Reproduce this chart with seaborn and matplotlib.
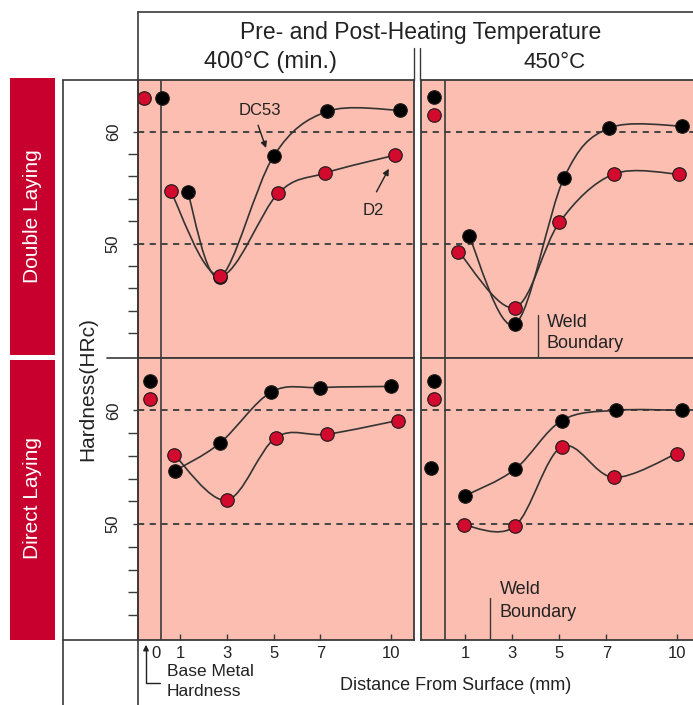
import numpy as np
import pandas as pd
import matplotlib
matplotlib.use("Agg")
import matplotlib.pyplot as plt
import seaborn as sns
from matplotlib.path import Path
from matplotlib.patches import PathPatch, Rectangle, FancyArrowPatch
from matplotlib.lines import Line2D
from matplotlib import font_manager

# ---------------- data (distance mm, hardness HRc) ----------------
# Double laying, 400 C
dl400_dc53_x = [1.33, 2.7, 5.0, 7.3, 10.4]
dl400_dc53_y = [54.6, 47.0, 57.8, 61.8, 61.9]
dl400_d2_x = [0.6, 2.7, 5.2, 7.2, 10.2]
dl400_d2_y = [54.7, 47.1, 54.5, 56.3, 57.9]
dl400_base_dc53 = [0.23, 63.0]
dl400_base_d2 = [-0.53, 63.0]
# Double laying, 450 C
dl450_dc53_x = [1.15, 3.1, 5.2, 7.1, 10.2]
dl450_dc53_y = [50.7, 42.8, 55.9, 60.3, 60.5]
dl450_d2_x = [0.7, 3.1, 5.0, 7.3, 10.1]
dl450_d2_y = [49.3, 44.3, 51.9, 56.2, 56.2]
dl450_base_dc53 = [-0.34, 63.1]
dl450_base_d2 = [-0.34, 61.5]
# Direct laying, 400 C
dr400_dc53_x = [0.8, 2.7, 4.9, 7.0, 10.0]
dr400_dc53_y = [54.7, 57.1, 61.6, 62.0, 62.1]
dr400_d2_x = [0.75, 3.0, 5.1, 7.3, 10.3]
dr400_d2_y = [56.1, 52.1, 57.6, 57.9, 59.1]
dr400_base_dc53 = [-0.28, 62.6]
dr400_base_d2 = [-0.28, 61.0]
# Direct laying, 450 C
dr450_dc53_x = [1.0, 3.1, 5.1, 7.4, 10.2]
dr450_dc53_y = [52.5, 54.8, 59.1, 60.0, 60.0]
dr450_d2_x = [0.94, 3.1, 5.1, 7.3, 10.0]
dr450_d2_y = [49.9, 49.8, 56.8, 54.1, 56.2]
dr450_base_dc53_x = [-0.34, -0.47]
dr450_base_dc53_y = [62.6, 54.9]
dr450_base_d2 = [-0.34, 61.0]

x_ticks_left = [0, 1, 3, 5, 7, 10]
x_ticks_right = [1, 3, 5, 7, 10]
y_major = [50, 60]
y_minor = [42, 44, 46, 48, 52, 54, 56, 58]

# ---------------- style ----------------
sns.set_style("white")
names = {f.name for f in font_manager.fontManager.ttflist}
FONT = "Liberation Sans Narrow" if "Liberation Sans Narrow" in names else "Liberation Sans"
plt.rcParams["font.family"] = [FONT, "DejaVu Sans"]

SALMON = "#FCBEB0"
RED_PT = "#D20A2E"
RED_BOX = "#C8002E"
DARK = "#3a3a3a"
TXT = "#222222"

W, H = 693, 705
fig = plt.figure(figsize=(W / 100, H / 100), dpi=100)


def fx(x):
    return x / W


def fy(y):
    return 1 - y / H


def add_ax(x0, x1, y0, y1):
    return fig.add_axes([fx(x0), fy(y1), (x1 - x0) / W, (y1 - y0) / H])


def fline(xs, ys, **kw):
    fig.add_artist(Line2D([fx(v) for v in xs], [fy(v) for v in ys],
                          color=kw.pop("color", DARK), lw=kw.pop("lw", 1.2), **kw))


def smooth_path(xs, ys):
    P = np.column_stack([xs, ys]).astype(float)
    ext = np.vstack([P[0], P, P[-1]])
    verts = [P[0]]
    codes = [Path.MOVETO]
    for i in range(len(P) - 1):
        p0, p1, p2, p3 = ext[i], ext[i + 1], ext[i + 2], ext[i + 3]
        verts += [p1 + (p2 - p0) / 6, p2 - (p3 - p1) / 6, p2]
        codes += [Path.CURVE4] * 3
    return Path(verts, codes)


def draw_series(ax, xs, ys, color):
    ax.add_patch(PathPatch(smooth_path(xs, ys), fill=False, edgecolor="#333333",
                           lw=1.2, zorder=2))
    df = pd.DataFrame({"x": xs, "y": ys})
    sns.scatterplot(data=df, x="x", y="y", color=color, s=95, edgecolor="#1a1a1a",
                    linewidth=0.8, ax=ax, zorder=3, legend=False)


def base_pts(ax, xs, ys, color):
    sns.scatterplot(x=xs, y=ys, color=color, s=95, edgecolor="#1a1a1a",
                    linewidth=0.8, ax=ax, zorder=3, legend=False)


YLIM = (39.8, 64.6)
panels = {
    "tl": add_ax(138, 414, 80, 358),
    "tr": add_ax(421, 700, 80, 358),
    "bl": add_ax(138, 414, 358, 640),
    "br": add_ax(421, 700, 358, 640),
}
xlims = {"tl": (-0.79, 11.0), "bl": (-0.79, 11.0), "tr": (-0.89, 10.98), "br": (-0.89, 10.98)}
vline = {"tl": 0.2, "bl": 0.2, "tr": 0.13, "br": 0.13}

for k, ax in panels.items():
    ax.set_facecolor(SALMON)
    for s in ax.spines.values():
        s.set_color(DARK)
        s.set_linewidth(1.3)
    if k in ("tr", "br"):
        ax.spines["right"].set_visible(False)
    for yv in y_major:
        ax.axhline(yv, color="#444444", lw=1.4, ls=(0, (3.2, 2.8)), zorder=1)
    ax.axvline(vline[k], color=DARK, lw=1.2, zorder=1)

# data
ax = panels["tl"]
draw_series(ax, dl400_dc53_x, dl400_dc53_y, "black")
draw_series(ax, dl400_d2_x, dl400_d2_y, RED_PT)
base_pts(ax, [dl400_base_dc53[0]], [dl400_base_dc53[1]], "black")
base_pts(ax, [dl400_base_d2[0]], [dl400_base_d2[1]], RED_PT)

ax = panels["tr"]
draw_series(ax, dl450_dc53_x, dl450_dc53_y, "black")
draw_series(ax, dl450_d2_x, dl450_d2_y, RED_PT)
base_pts(ax, [dl450_base_dc53[0]], [dl450_base_dc53[1]], "black")
base_pts(ax, [dl450_base_d2[0]], [dl450_base_d2[1]], RED_PT)

ax = panels["bl"]
draw_series(ax, dr400_dc53_x, dr400_dc53_y, "black")
draw_series(ax, dr400_d2_x, dr400_d2_y, RED_PT)
base_pts(ax, [dr400_base_dc53[0]], [dr400_base_dc53[1]], "black")
base_pts(ax, [dr400_base_d2[0]], [dr400_base_d2[1]], RED_PT)

ax = panels["br"]
draw_series(ax, dr450_dc53_x, dr450_dc53_y, "black")
draw_series(ax, dr450_d2_x, dr450_d2_y, RED_PT)
base_pts(ax, dr450_base_dc53_x, dr450_base_dc53_y, "black")
base_pts(ax, [dr450_base_d2[0]], [dr450_base_d2[1]], RED_PT)

# limits, labels, ticks
for k, ax in panels.items():
    ax.set_xlim(*xlims[k])
    ax.set_ylim(*YLIM)
    ax.set_xlabel("")
    ax.set_ylabel("")
    ax.tick_params(axis="both", which="both", length=0, labelleft=False, labelbottom=False)
for k in ("tl", "bl"):
    ax = panels[k]
    ax.set_yticks(y_major)
    ax.set_yticks(y_minor, minor=True)
    ax.tick_params(axis="y", which="major", left=True, length=3.5, width=1.0, color=DARK,
                   direction="out", labelleft=True, labelrotation=90, labelsize=12,
                   pad=9, labelcolor=TXT)
    ax.tick_params(axis="y", which="minor", left=True, length=7.5, width=1.0, color=DARK,
                   direction="out")
    for lab in ax.get_yticklabels():
        lab.set_va("center")
for k, ticks in (("bl", x_ticks_left), ("br", x_ticks_right)):
    ax = panels[k]
    ax.set_xticks(ticks)
    ax.set_xticklabels([str(t) for t in ticks])
    ax.tick_params(axis="x", which="major", bottom=True, length=4, width=1.0, color=DARK,
                   direction="in", labelbottom=True, labelsize=12, pad=4, labelcolor=TXT)
panels["bl"].xaxis.get_major_ticks()[0].tick1line.set_visible(False)

# annotations inside panels
ax = panels["tl"]
ax.text(4.42, 61.9, "DC53", ha="center", va="center", fontsize=12, color=TXT)
ax.annotate("", xy=(4.72, 58.3), xytext=(4.3, 60.8),
            arrowprops=dict(arrowstyle="-|>", color="#222", lw=1.0, mutation_scale=9))
ax.text(9.25, 53.0, "D2", ha="center", va="center", fontsize=12, color=TXT)
ax.annotate("", xy=(9.98, 56.9), xytext=(9.34, 54.4),
            arrowprops=dict(arrowstyle="-|>", color="#222", lw=1.0, mutation_scale=9))

ax = panels["tr"]
ax.plot([4.1, 4.1], [43.6, YLIM[0]], color=DARK, lw=1.0)
ax.text(4.45, 43.0, "Weld", ha="left", va="center", fontsize=13, color=TXT)
ax.text(4.45, 41.1, "Boundary", ha="left", va="center", fontsize=13, color=TXT)

ax = panels["br"]
ax.plot([2.04, 2.04], [43.5, YLIM[0]], color=DARK, lw=1.0)
ax.text(2.45, 44.2, "Weld", ha="left", va="center", fontsize=13, color=TXT)
ax.text(2.45, 42.2, "Boundary", ha="left", va="center", fontsize=13, color=TXT)

# ---------------- frame / table lines ----------------
fline([138, 693], [12, 12])
fline([138, 138], [12, 705])
fline([63, 63], [80, 705])
fline([63, 138], [80, 80])
fline([63, 138], [640, 640])
fline([107, 138], [358, 358])
fline([414, 414], [48, 80], lw=1.0)
fline([420, 420], [48, 80], lw=1.0)

# red row labels
fig.add_artist(Rectangle((fx(10), fy(355)), 45 / W, (355 - 78) / H, color=RED_BOX, lw=0))
fig.add_artist(Rectangle((fx(10), fy(640)), 45 / W, (640 - 360) / H, color=RED_BOX, lw=0))
fig.text(fx(33), fy(216), "Double Laying", rotation=90, ha="center", va="center",
         color="white", fontsize=15)
fig.text(fx(33), fy(498), "Direct Laying", rotation=90, ha="center", va="center",
         color="white", fontsize=15)

# header texts
fig.text(fx(421), fy(33), "Pre- and Post-Heating Temperature", ha="center", va="center",
         fontsize=16.5, color=TXT)
fig.text(fx(271), fy(62), "400°C (min.)", ha="center", va="center", fontsize=17, color=TXT)
fig.text(fx(555), fy(62), "450°C", ha="center", va="center", fontsize=16, color=TXT)

# axis titles
fig.text(fx(88), fy(389), "Hardness(HRc)", rotation=90, ha="center", va="center",
         fontsize=15, color=TXT)
fig.text(fx(456), fy(686), "Distance From Surface (mm)", ha="center", va="center",
         fontsize=13, color=TXT)
fig.text(fx(167), fy(672), "Base Metal", ha="left", va="center", fontsize=12.5, color=TXT)
fig.text(fx(167), fy(692), "Hardness", ha="left", va="center", fontsize=12.5, color=TXT)

# base metal arrow
fline([146, 146, 160], [650, 683, 683], lw=1.0, color="#222")
fig.add_artist(FancyArrowPatch(
    (146, H - 652), (146, H - 642), transform=None, arrowstyle="-|>",
    mutation_scale=8, color="#222", lw=1.0))

fig.savefig("out.png", dpi=100, facecolor="white")
